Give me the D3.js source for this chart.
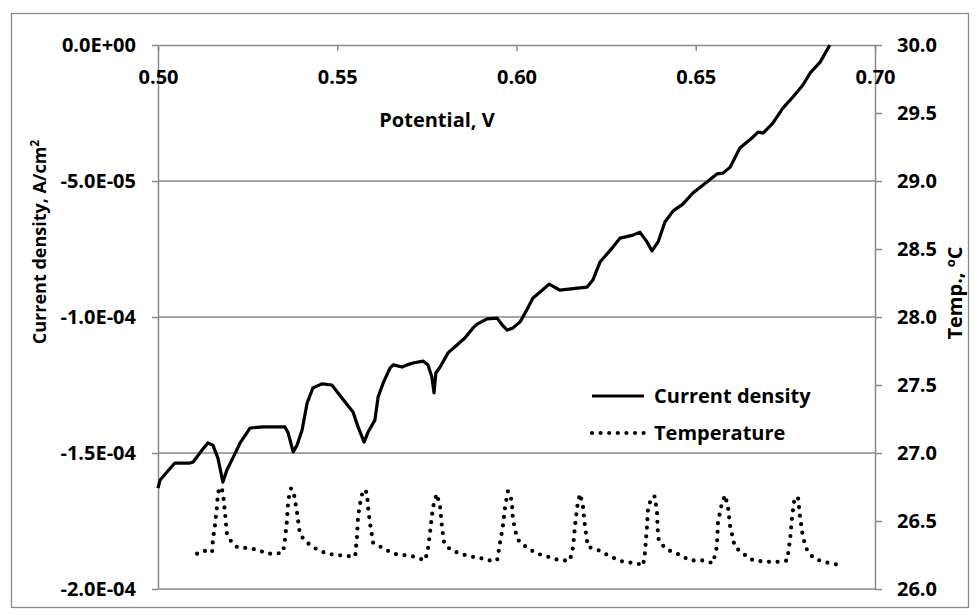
<!DOCTYPE html>
<html>
<head>
<meta charset="utf-8">
<script src="https://cdn.jsdelivr.net/npm/d3@7"></script>
<style>
  body { margin: 0; background: #fff; }
  svg { display: block; font-family: 'Open Sans', sans-serif; font-weight: bold; }
</style>
</head>
<body>
<script>
// current density curve, potential in V, current in 1e-5 A/cm2
const potential = [
  0.5000, 0.5006, 0.5025, 0.5047, 0.5089, 0.5098, 0.5123, 0.5139, 0.5153, 0.5167,
  0.5181, 0.5192, 0.5209, 0.5229, 0.5248, 0.5257, 0.5293, 0.5354, 0.5363, 0.5377,
  0.5388, 0.5402, 0.5416, 0.5432, 0.5457, 0.5485, 0.5513, 0.5544, 0.5558, 0.5575,
  0.5586, 0.5605, 0.5614, 0.5628, 0.5647, 0.5656, 0.5681, 0.5695, 0.5711, 0.5739,
  0.5753, 0.5764, 0.5770, 0.5775, 0.5787, 0.5809, 0.5834, 0.5856, 0.5879, 0.5890,
  0.5918, 0.5946, 0.5960, 0.5974, 0.5990, 0.6010, 0.6024, 0.6046, 0.6066, 0.6091,
  0.6121, 0.6177, 0.6197, 0.6213, 0.6233, 0.6269, 0.6289, 0.6325, 0.6344, 0.6364,
  0.6378, 0.6395, 0.6414, 0.6437, 0.6464, 0.6492, 0.6531, 0.6559, 0.6576, 0.6596,
  0.6623, 0.6660, 0.6674, 0.6688, 0.6715, 0.6743, 0.6771, 0.6799, 0.6819, 0.6847,
  0.6874
]
const currentE5 = [
  -16.29, -15.99, -15.70, -15.37, -15.37, -15.33, -14.89, -14.63, -14.71, -15.18,
  -16.07, -15.63, -15.18, -14.63, -14.26, -14.08, -14.04, -14.04, -14.26, -14.96,
  -14.71, -14.15, -13.16, -12.61, -12.46, -12.50, -12.98, -13.49, -14.04, -14.60,
  -14.23, -13.79, -12.94, -12.43, -11.88, -11.76, -11.84, -11.76, -11.69, -11.62,
  -11.76, -12.21, -12.79, -12.06, -11.84, -11.32, -11.03, -10.77, -10.40, -10.26,
  -10.07, -10.04, -10.29, -10.48, -10.40, -10.18, -9.85, -9.30, -9.08, -8.79,
  -9.01, -8.93, -8.90, -8.64, -7.98, -7.43, -7.10, -6.99, -6.88, -7.24,
  -7.57, -7.24, -6.51, -6.10, -5.85, -5.44, -5.04, -4.74, -4.71, -4.49,
  -3.79, -3.38, -3.20, -3.24, -2.87, -2.32, -1.91, -1.47, -1.03, -0.63,
  0.00
]

// temperature curve
const tempPotential = [
  0.5109, 0.5123, 0.5137, 0.5151, 0.5153, 0.5159, 0.5165, 0.5167, 0.5176, 0.5181,
  0.5187, 0.5192, 0.5206, 0.5220, 0.5248, 0.5276, 0.5304, 0.5332, 0.5349,
  0.5354, 0.5360, 0.5363, 0.5371, 0.5379, 0.5388, 0.5396, 0.5416, 0.5444, 0.5471, 0.5499, 0.5536, 0.5550,
  0.5555, 0.5558, 0.5563, 0.5572, 0.5583, 0.5586, 0.5591, 0.5600, 0.5628, 0.5656, 0.5683, 0.5711, 0.5745,
  0.5753, 0.5759, 0.5764, 0.5770, 0.5778, 0.5787, 0.5792, 0.5798, 0.5815, 0.5842, 0.5870, 0.5898, 0.5918, 0.5946,
  0.5954, 0.5962, 0.5968, 0.5976, 0.5987, 0.5990, 0.6001, 0.6010, 0.6038, 0.6057, 0.6085, 0.6121, 0.6149,
  0.6158, 0.6163, 0.6169, 0.6177, 0.6185, 0.6191, 0.6199, 0.6225, 0.6261, 0.6297, 0.6336, 0.6353,
  0.6358, 0.6364, 0.6367, 0.6378, 0.6386, 0.6392, 0.6395, 0.6400, 0.6420, 0.6448, 0.6484, 0.6520, 0.6548,
  0.6559, 0.6562, 0.6573, 0.6582, 0.6590, 0.6596, 0.6609, 0.6632, 0.6660, 0.6699, 0.6735, 0.6755,
  0.6763, 0.6768, 0.6774, 0.6785, 0.6791, 0.6799, 0.6810, 0.6827, 0.6855, 0.6874, 0.6894
]
const temperature = [
  26.26, 26.28, 26.28, 26.27, 26.36, 26.47, 26.62, 26.71, 26.75, 26.71,
  26.56, 26.41, 26.34, 26.31, 26.30, 26.29, 26.26, 26.26, 26.27,
  26.36, 26.51, 26.65, 26.74, 26.70, 26.56, 26.40, 26.34, 26.29, 26.26, 26.25, 26.24, 26.24,
  26.38, 26.53, 26.62, 26.73, 26.71, 26.60, 26.49, 26.34, 26.30, 26.26, 26.25, 26.24, 26.21,
  26.29, 26.42, 26.54, 26.64, 26.70, 26.60, 26.46, 26.34, 26.29, 26.26, 26.24, 26.23, 26.21, 26.21,
  26.34, 26.46, 26.60, 26.72, 26.65, 26.51, 26.38, 26.34, 26.29, 26.26, 26.24, 26.21, 26.21,
  26.31, 26.46, 26.60, 26.70, 26.62, 26.46, 26.31, 26.29, 26.24, 26.20, 26.19, 26.17,
  26.26, 26.46, 26.60, 26.68, 26.68, 26.56, 26.38, 26.34, 26.29, 26.26, 26.21, 26.21, 26.19,
  26.31, 26.49, 26.63, 26.69, 26.60, 26.46, 26.31, 26.26, 26.21, 26.20, 26.20, 26.21,
  26.36, 26.51, 26.64, 26.68, 26.53, 26.38, 26.29, 26.23, 26.20, 26.19, 26.18
]

const xTicks = [0.50, 0.55, 0.60, 0.65, 0.70]
const leftTicks = [0, -5, -10, -15, -20]
const rightTicks = [26.0, 26.5, 27.0, 27.5, 28.0, 28.5, 29.0, 29.5, 30.0]
const legendLabels = ['Current density', 'Temperature']

const W = 979, H = 615
const LEFT = 158, RIGHT = 875, TOP = 45, BOTTOM = 589
const GRID = '#8a8a8a'
const FONT = 20

const svg = d3.select('body').append('svg')
  .attr('width', W)
  .attr('height', H)

svg.append('rect')
  .attr('x', 11.5).attr('y', 13.5)
  .attr('width', 957).attr('height', 594)
  .attr('fill', '#fff')
  .attr('stroke', GRID)
  .attr('stroke-width', 1.3)

const x = d3.scaleLinear().domain([0.5, 0.7]).range([LEFT, RIGHT])
const yLeft = d3.scaleLinear().domain([-20, 0]).range([BOTTOM, TOP])
const yRight = d3.scaleLinear().domain([26, 30]).range([BOTTOM, TOP])

// 1e-5 units -> "-5.0E-05"
const sci = d => {
  if (d === 0) return '0.0E+00'
  const v = d * 1e-5
  const e = Math.floor(Math.log10(Math.abs(v)) + 1e-9)
  const m = v / Math.pow(10, e)
  const sign = e < 0 ? '-' : '+'
  return m.toFixed(1) + 'E' + sign + String(Math.abs(e)).padStart(2, '0')
}

// gridlines
svg.append('g')
  .selectAll('line')
  .data(leftTicks.filter(d => d !== 0))
  .enter()
  .append('line')
  .attr('x1', LEFT).attr('x2', RIGHT)
  .attr('y1', d => yLeft(d)).attr('y2', d => yLeft(d))
  .attr('stroke', GRID)
  .attr('stroke-width', 1.5)

const styleAxis = g => {
  g.selectAll('path, line').attr('stroke', GRID).attr('stroke-width', 1.5)
  g.selectAll('text')
    .attr('fill', '#000')
    .style('font-size', FONT + 'px')
    .style('font-family', "'Open Sans', sans-serif")
    .style('font-weight', 'bold')
}

svg.append('g')
  .attr('transform', `translate(${LEFT}, 0)`)
  .call(d3.axisLeft(yLeft).tickValues(leftTicks).tickFormat(sci).tickSize(6).tickSizeOuter(0).tickPadding(16))
  .call(styleAxis)

svg.append('g')
  .attr('transform', `translate(${RIGHT}, 0)`)
  .call(d3.axisRight(yRight).tickValues(rightTicks).tickFormat(d3.format('.1f')).tickSize(7).tickSizeOuter(0).tickPadding(15))
  .call(styleAxis)

svg.append('g')
  .attr('transform', `translate(0, ${yLeft(0)})`)
  .call(d3.axisBottom(x).tickValues(xTicks).tickFormat(d3.format('.2f')).tickSize(6).tickSizeOuter(0).tickPadding(19))
  .call(styleAxis)

// series
const tempLine = d3.line()
  .x(i => x(tempPotential[i]))
  .y(i => yRight(temperature[i]))

svg.append('path')
  .attr('d', tempLine(d3.range(temperature.length)))
  .attr('fill', 'none')
  .attr('stroke', '#000')
  .attr('stroke-width', 4.2)
  .attr('stroke-linecap', 'round')
  .attr('stroke-dasharray', '0 8.6')

const curLine = d3.line()
  .x(i => x(potential[i]))
  .y(i => yLeft(currentE5[i]))

svg.append('path')
  .attr('d', curLine(d3.range(currentE5.length)))
  .attr('fill', 'none')
  .attr('stroke', '#000')
  .attr('stroke-width', 3.2)
  .attr('stroke-linejoin', 'round')

// axis titles
svg.append('text')
  .attr('x', 437).attr('y', 127)
  .attr('text-anchor', 'middle')
  .style('font-size', FONT + 'px')
  .text('Potential, V')

const lt = svg.append('text')
  .attr('transform', 'translate(46, 242) rotate(-90)')
  .attr('text-anchor', 'middle')
  .style('font-size', '18px')
lt.append('tspan').text('Current density, A/cm')
lt.append('tspan').attr('dy', -7).style('font-size', '12px').text('2')

const rt = svg.append('text')
  .attr('transform', 'translate(962, 293) rotate(-90)')
  .attr('text-anchor', 'middle')
  .style('font-size', FONT + 'px')
rt.append('tspan').text('Temp., ')
rt.append('tspan').attr('dy', -7).style('font-size', '13px').text('o')
rt.append('tspan').attr('dy', 7).text('C')

// legend
const legend = svg.append('g').attr('transform', 'translate(592, 396)')
legend.selectAll('line')
  .data(legendLabels)
  .enter()
  .append('line')
  .attr('x1', 0).attr('x2', 52)
  .attr('y1', (d, i) => i * 37).attr('y2', (d, i) => i * 37)
  .attr('stroke', '#000')
  .attr('stroke-width', (d, i) => i === 0 ? 3 : 4.2)
  .attr('stroke-linecap', (d, i) => i === 0 ? 'butt' : 'round')
  .attr('stroke-dasharray', (d, i) => i === 0 ? null : '0 8.6')
legend.selectAll('text')
  .data(legendLabels)
  .enter()
  .append('text')
  .attr('x', 62)
  .attr('y', (d, i) => i * 37)
  .attr('dy', '0.35em')
  .style('font-size', FONT + 'px')
  .text(d => d)
</script>
</body>
</html>
